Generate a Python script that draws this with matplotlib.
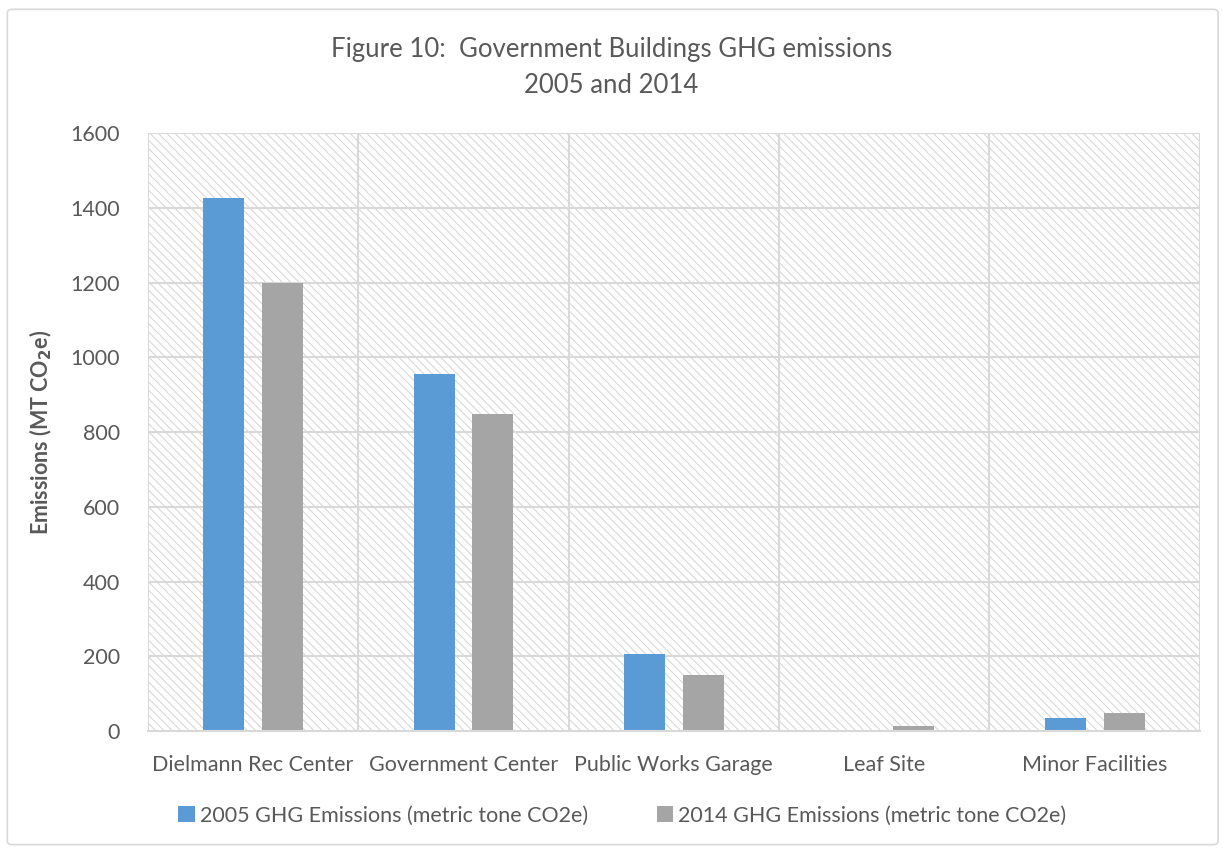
import matplotlib.pyplot as plt
from matplotlib.patches import Rectangle, FancyBboxPatch
import numpy as np

plt.rcParams['font.family'] = ['Lato', 'DejaVu Sans']
plt.rcParams['hatch.linewidth'] = 0.7

categories = ['Dielmann Rec Center', 'Government Center', 'Public Works Garage',
              'Leaf Site', 'Minor Facilities']
ghg_2005 = [1426, 955, 206, 2, 35]
ghg_2014 = [1200, 848, 150, 13, 48]
yticks = [0, 200, 400, 600, 800, 1000, 1200, 1400, 1600]

txt = '#595959'
grid = '#d9d9d9'

fig = plt.figure(figsize=(12.23, 8.48), dpi=100)
fig.patches.append(FancyBboxPatch((0.006, 0.004), 0.99, 0.985,
                                  boxstyle='round,pad=0,rounding_size=0.004',
                                  transform=fig.transFigure, facecolor='none',
                                  edgecolor=grid, linewidth=1.2))
ax = fig.add_axes([0.121, 0.138, 0.860, 0.705])

# hatched plot background
ax.add_patch(Rectangle((0, 0), 1, 1, transform=ax.transAxes, facecolor='white',
                       edgecolor='#d4d4d4', hatch='\\\\\\\\', linewidth=0, zorder=0))

x = np.arange(len(categories))
w = 0.195
ax.bar(x - 0.14, ghg_2005, w, color='#5b9bd5', zorder=3,
       label='2005 GHG Emissions (metric tone CO2e)')
ax.bar(x + 0.14, ghg_2014, w, color='#a5a5a5', zorder=3,
       label='2014 GHG Emissions (metric tone CO2e)')

ax.set_xlim(-0.5, len(categories) - 0.5)
ax.set_ylim(0, 1600)
ax.set_yticks(yticks)
ax.set_xticks(x)
ax.set_xticklabels(categories)
for b in np.arange(-0.5, len(categories), 1.0):
    ax.axvline(b, color=grid, linewidth=1.5, zorder=1)
for t in yticks[1:]:
    ax.axhline(t, color=grid, linewidth=1.5, zorder=1)

for s in ['top', 'right', 'left']:
    ax.spines[s].set_visible(False)
ax.spines['bottom'].set_color(grid)
ax.spines['bottom'].set_linewidth(1.5)
ax.spines['bottom'].set_zorder(4)
ax.tick_params(length=0, labelsize=15.5, colors=txt, pad=17)
ax.tick_params(axis='y', pad=20)

ax.set_ylabel('Emissions (MT CO$_\\mathbf{2}$e)', fontsize=15.5, fontweight='bold',
              color=txt, labelpad=12)
fig.text(0.5, 0.920, 'Figure 10:  Government Buildings GHG emissions\n2005 and 2014',
         ha='center', va='center', fontsize=18.5, color=txt, linespacing=1.55)

fig.legend(loc='center', bbox_to_anchor=(0.509, 0.038), ncol=2, frameon=False,
           fontsize=15.5, labelcolor=txt, handlelength=0.75, handleheight=0.75,
           handletextpad=0.25, columnspacing=3.2)

fig.savefig('out.png', dpi=100)
